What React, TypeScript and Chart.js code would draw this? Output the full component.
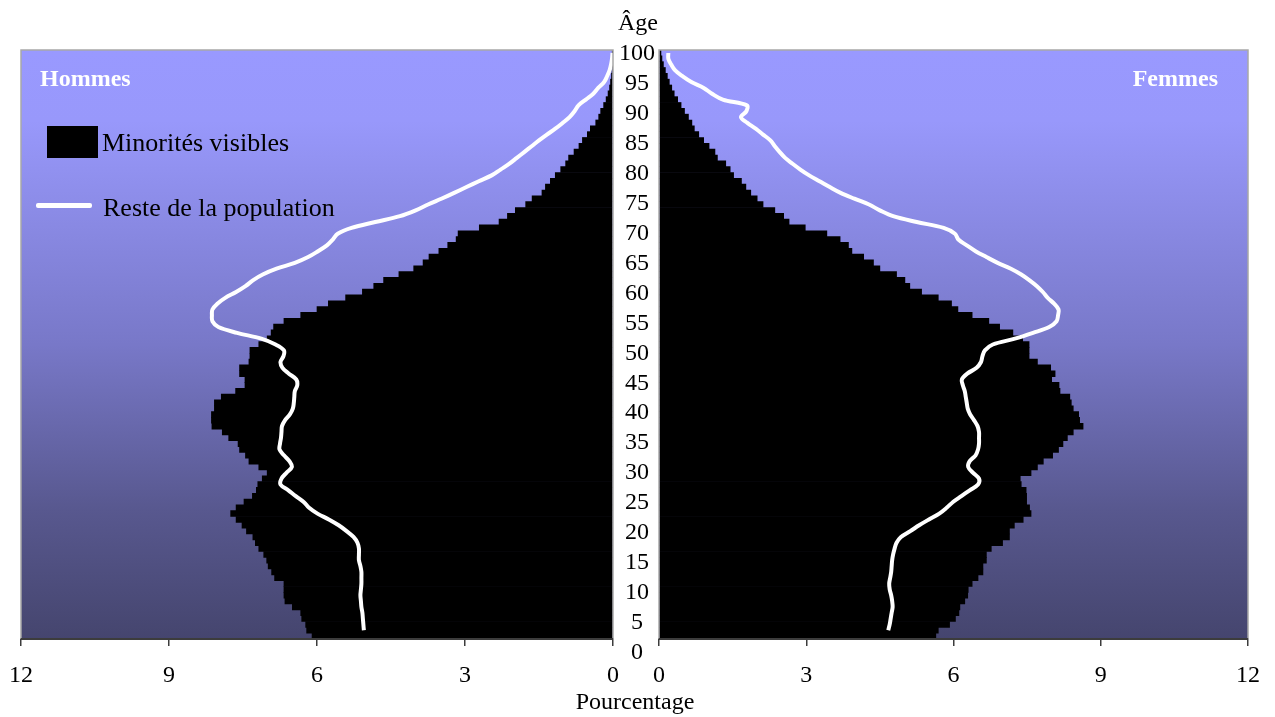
import React, { useEffect, useRef } from "react";
import { Chart, registerables } from "chart.js";

Chart.register(...registerables);

// Ages 0..100 (one bar per single year of age)
const ages: number[] = Array.from({ length: 101 }, (_, i) => i);
const ageTickLabels: number[] = [0, 5, 10, 15, 20, 25, 30, 35, 40, 45, 50, 55, 60, 65, 70, 75, 80, 85, 90, 95, 100];
const percentTicks: number[] = [0, 3, 6, 9, 12];

const seriesMinorites = "Minorités visibles";
const seriesReste = "Reste de la population";

// Hommes – Minorités visibles (%), ages 0..100
const hommesMinorites: number[] = [
  6.10, 6.21, 6.23, 6.31, 6.33, 6.50, 6.65, 6.67, 6.67, 6.67,
  6.86, 6.92, 6.99, 7.02, 7.08, 7.18, 7.25, 7.30, 7.43, 7.52,
  7.64, 7.75, 7.64, 7.48, 7.31, 7.23, 7.20, 7.11, 7.01, 7.18,
  7.38, 7.45, 7.57, 7.60, 7.79, 7.92, 8.13, 8.14, 8.14, 8.08,
  8.08, 7.94, 7.65, 7.46, 7.46, 7.57, 7.57, 7.38, 7.36, 7.36,
  7.18, 7.01, 6.93, 6.88, 6.67, 6.33, 6.00, 5.77, 5.42, 5.08,
  4.85, 4.65, 4.34, 4.04, 3.85, 3.73, 3.53, 3.35, 3.18, 3.14,
  2.71, 2.31, 2.14, 1.98, 1.77, 1.64, 1.44, 1.37, 1.27, 1.17,
  1.06, 0.96, 0.90, 0.79, 0.69, 0.62, 0.52, 0.46, 0.35, 0.29,
  0.25, 0.19, 0.14, 0.10, 0.07, 0.05, 0.03, 0.02, 0.01, 0.01,
  0.005,
];

// Femmes – Minorités visibles (%), ages 0..100
const femmesMinorites: number[] = [
  5.64, 5.69, 5.92, 6.04, 6.11, 6.13, 6.23, 6.29, 6.30, 6.38,
  6.50, 6.60, 6.60, 6.67, 6.67, 6.77, 7.00, 7.14, 7.14, 7.24,
  7.42, 7.58, 7.55, 7.49, 7.49, 7.48, 7.38, 7.36, 7.58, 7.71,
  7.83, 8.02, 8.14, 8.23, 8.32, 8.44, 8.64, 8.57, 8.55, 8.44,
  8.40, 8.37, 8.17, 8.15, 8.00, 8.07, 7.98, 7.71, 7.54, 7.54,
  7.54, 7.41, 7.21, 6.94, 6.72, 6.38, 6.09, 5.96, 5.69, 5.35,
  5.11, 5.01, 4.84, 4.50, 4.37, 4.17, 3.93, 3.86, 3.69, 3.42,
  2.98, 2.65, 2.54, 2.36, 2.12, 2.00, 1.87, 1.77, 1.68, 1.52,
  1.45, 1.36, 1.19, 1.14, 1.02, 0.91, 0.81, 0.72, 0.67, 0.60,
  0.52, 0.45, 0.38, 0.31, 0.26, 0.21, 0.17, 0.13, 0.09, 0.06,
  0.04,
];

// Hommes – Reste de la population (%), ages 0..100 (no value at age 0)
const hommesReste: (number | null)[] = [
  null, 5.05, 5.06, 5.07, 5.08, 5.10, 5.11, 5.12, 5.11, 5.10,
  5.10, 5.10, 5.12, 5.15, 5.15, 5.15, 5.18, 5.26, 5.40, 5.56,
  5.76, 5.99, 6.16, 6.27, 6.43, 6.58, 6.74, 6.72, 6.62, 6.51,
  6.56, 6.67, 6.76, 6.75, 6.73, 6.72, 6.71, 6.65, 6.55, 6.49,
  6.47, 6.46, 6.45, 6.40, 6.42, 6.57, 6.70, 6.74, 6.68, 6.67,
  6.84, 7.13, 7.62, 8.00, 8.12, 8.13, 8.12, 8.02, 7.86, 7.64,
  7.45, 7.30, 7.10, 6.82, 6.45, 6.18, 5.98, 5.80, 5.68, 5.58,
  5.30, 4.82, 4.32, 4.00, 3.75, 3.48, 3.22, 2.97, 2.72, 2.46,
  2.28, 2.10, 1.95, 1.80, 1.65, 1.50, 1.34, 1.17, 1.02, 0.88,
  0.78, 0.70, 0.55, 0.40, 0.30, 0.18, 0.12, 0.07, 0.04, 0.02,
  0.01,
];

// Femmes – Reste de la population (%), ages 0..100 (no value at age 0)
const femmesReste: (number | null)[] = [
  null, 4.67, 4.70, 4.72, 4.74, 4.76, 4.75, 4.73, 4.70, 4.69,
  4.71, 4.73, 4.74, 4.75, 4.77, 4.80, 4.84, 4.93, 5.12, 5.30,
  5.50, 5.71, 5.86, 5.99, 6.16, 6.33, 6.50, 6.52, 6.40, 6.30,
  6.33, 6.45, 6.50, 6.52, 6.52, 6.52, 6.49, 6.42, 6.34, 6.29,
  6.27, 6.25, 6.23, 6.19, 6.17, 6.28, 6.47, 6.56, 6.59, 6.64,
  6.80, 7.25, 7.62, 7.95, 8.10, 8.13, 8.14, 8.05, 7.92, 7.82,
  7.70, 7.55, 7.38, 7.17, 6.90, 6.67, 6.45, 6.27, 6.10, 6.03,
  5.80, 5.25, 4.77, 4.50, 4.28, 3.98, 3.70, 3.48, 3.27, 3.06,
  2.88, 2.72, 2.57, 2.46, 2.36, 2.27, 2.12, 1.97, 1.80, 1.67,
  1.78, 1.79, 1.30, 1.08, 0.91, 0.66, 0.48, 0.33, 0.25, 0.19,
  0.19,
];

const FONT = '"Liberation Serif", "Times New Roman", Times, serif';
const W = 1275;
const H = 717;

const panelPlugin = {
  id: "panelBackground",
  beforeDraw(chart: any) {
    const { ctx, chartArea } = chart;
    if (!chartArea) return;
    const { left, top, right, bottom } = chartArea;
    const g = ctx.createLinearGradient(0, top, 0, bottom);
    g.addColorStop(0, "#9999ff");
    g.addColorStop(0.12, "#9898fb");
    g.addColorStop(0.5, "#7878c8");
    g.addColorStop(0.78, "#58588f");
    g.addColorStop(1, "#45456e");
    ctx.save();
    ctx.fillStyle = g;
    ctx.fillRect(left, top, right - left, bottom - top);
    ctx.restore();
  },
  afterDatasetsDraw(chart: any) {
    const { ctx, chartArea } = chart;
    const { left, top, right, bottom } = chartArea;
    ctx.save();
    ctx.strokeStyle = "#a8a8a8";
    ctx.lineWidth = 1.5;
    ctx.beginPath();
    ctx.moveTo(left, bottom);
    ctx.lineTo(left, top);
    ctx.lineTo(right, top);
    ctx.lineTo(right, bottom);
    ctx.stroke();
    ctx.strokeStyle = "#3c3c3c";
    ctx.lineWidth = 2;
    ctx.beginPath();
    ctx.moveTo(left, bottom);
    ctx.lineTo(right, bottom);
    ctx.stroke();
    ctx.restore();
  },
};

function makeConfig(side: "left" | "right", bars: number[], line: (number | null)[]): any {
  const isLeft = side === "left";
  const scales: any = {
    y: {
      type: "category",
      reverse: true,
      display: false,
      offset: true,
    },
  };
  if (!isLeft) {
    scales.yAge = {
      type: "linear",
      position: "left",
      offset: false,
      min: 2.26,
      max: 100.7,
      grid: { display: false, drawTicks: false, offset: false },
      border: { display: false },
      ticks: {
        autoSkip: false,
        crossAlign: "center",
        padding: 4,
        color: "#000",
        font: { family: FONT, size: 24 },
      },
      afterBuildTicks: (scale: any) => {
        scale.ticks = ageTickLabels.map((v) => ({ value: v }));
      },
      afterFit: (scale: any) => {
        scale.width = 47;
      },
    };
  }
  scales.x = {
    type: "linear",
    position: "bottom",
    reverse: isLeft,
    offset: false,
    min: 0,
    max: 12,
    afterBuildTicks: (scale: any) => {
      scale.ticks = percentTicks.map((v) => ({ value: v }));
    },
    ticks: {
      padding: 15,
      color: "#000",
      font: { family: FONT, size: 24 },
      maxRotation: 0,
      autoSkip: false,
    },
    grid: {
      drawOnChartArea: false,
      drawTicks: true,
      tickLength: 7,
      color: "#3c3c3c",
      lineWidth: 1.5,
    },
    border: { display: true, color: "#3c3c3c", width: 2 },
    afterFit: (scale: any) => {
      scale.height = 78;
    },
  };

  return {
    type: "bar",
    data: {
      labels: ages,
      datasets: [
        {
          type: "line",
          label: seriesReste,
          data: line,
          borderColor: "#ffffff",
          borderWidth: 4,
          pointRadius: 0,
          tension: 0.35,
          fill: false,
          xAxisID: "x",
          yAxisID: "y",
          order: 0,
        },
        {
          type: "bar",
          label: seriesMinorites,
          data: bars,
          backgroundColor: "#000000",
          borderWidth: 0,
          barPercentage: 1,
          categoryPercentage: 1,
          xAxisID: "x",
          yAxisID: "y",
          order: 1,
        },
      ],
    },
    options: {
      indexAxis: "y",
      animation: false,
      responsive: false,
      maintainAspectRatio: false,
      events: [],
      layout: {
        padding: isLeft
          ? { left: 21, right: W - 613, top: 50, bottom: 0 }
          : { left: 612, right: W - 1252, top: 50, bottom: 0 },
      },
      plugins: {
        legend: { display: false },
        tooltip: { enabled: false },
        title: { display: false },
      },
      scales,
    },
    plugins: [panelPlugin],
  };
}

const textBase: React.CSSProperties = {
  position: "absolute",
  fontFamily: FONT,
  lineHeight: 1,
  whiteSpace: "nowrap",
  margin: 0,
};

export default function App() {
  const leftRef = useRef<HTMLCanvasElement | null>(null);
  const rightRef = useRef<HTMLCanvasElement | null>(null);

  useEffect(() => {
    const left = new Chart(leftRef.current as HTMLCanvasElement, makeConfig("left", hommesMinorites, hommesReste));
    const right = new Chart(rightRef.current as HTMLCanvasElement, makeConfig("right", femmesMinorites, femmesReste));
    return () => {
      left.destroy();
      right.destroy();
    };
  }, []);

  return (
    <div style={{ position: "absolute", left: 0, top: 0, width: W, height: H, background: "#fff", overflow: "hidden" }}>
      <canvas ref={leftRef} width={W} height={H} style={{ position: "absolute", left: 0, top: 0 }} />
      <canvas ref={rightRef} width={W} height={H} style={{ position: "absolute", left: 0, top: 0 }} />

      <div style={{ ...textBase, fontSize: 24, top: 10, left: 538, width: 200, textAlign: "center", color: "#000" }}>Âge</div>
      <div style={{ ...textBase, fontSize: 24, top: 689, left: 535, width: 200, textAlign: "center", color: "#000" }}>Pourcentage</div>

      <div style={{ ...textBase, fontSize: 24, fontWeight: "bold", top: 66, left: 40, color: "#fff" }}>Hommes</div>
      <div style={{ ...textBase, fontSize: 24, fontWeight: "bold", top: 66, right: W - 1218, color: "#fff" }}>Femmes</div>

      <div style={{ position: "absolute", left: 47, top: 126, width: 51, height: 32, background: "#000" }} />
      <div style={{ ...textBase, fontSize: 26, top: 130, left: 102, color: "#000" }}>{seriesMinorites}</div>
      <div style={{ position: "absolute", left: 36, top: 203, width: 56, height: 5, background: "#fff", borderRadius: 2 }} />
      <div style={{ ...textBase, fontSize: 26, top: 195, left: 103, color: "#000" }}>{seriesReste}</div>
    </div>
  );
}
